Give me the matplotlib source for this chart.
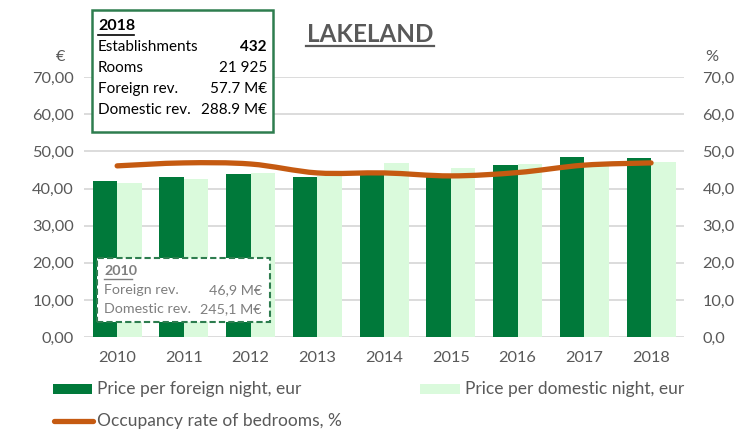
import numpy as np
import matplotlib
matplotlib.use("Agg")
import matplotlib.pyplot as plt
from matplotlib.path import Path
from matplotlib.patches import PathPatch, Rectangle
from matplotlib.lines import Line2D

plt.rcParams['font.family'] = ['Lato', 'DejaVu Sans']

years = ["2010", "2011", "2012", "2013", "2014", "2015", "2016", "2017", "2018"]
foreign_price = [42.1, 43.2, 43.8, 43.2, 44.4, 43.9, 46.4, 48.6, 48.3]
domestic_price = [41.4, 42.6, 44.2, 43.5, 46.9, 45.5, 46.6, 46.3, 47.2]
occupancy = [46.1, 46.9, 46.6, 44.2, 44.2, 43.4, 44.3, 46.3, 46.9]

dark_green = "#00793A"
light_green = "#DAFADC"
orange = "#C55A11"
gray = "#595959"


def smooth_path(xs, ys, tension=1 / 6):
    # Excel style smoothed line as cubic bezier segments
    pts = np.column_stack([xs, ys])
    verts = [pts[0]]
    codes = [Path.MOVETO]
    n = len(pts)
    for i in range(n - 1):
        p0 = pts[i - 1] if i > 0 else pts[i]
        p1 = pts[i]
        p2 = pts[i + 1]
        p3 = pts[i + 2] if i + 2 < n else pts[i + 1]
        c1 = p1 + (p2 - p0) * tension
        c2 = p2 - (p3 - p1) * tension
        verts += [c1, c2, p2]
        codes += [Path.CURVE4] * 3
    return Path(verts, codes)


def fx(px):
    return px / 748


def fy(py):
    return 1 - py / 443


fig = plt.figure(figsize=(7.48, 4.43), dpi=100)
ax = fig.add_axes([0.112, 0.239, 0.803, 0.587])
x = np.arange(len(years))
w = 0.367
ax.bar(x - w / 2, foreign_price, w, color=dark_green, zorder=2)
ax.bar(x + w / 2, domestic_price, w, color=light_green, zorder=2)
ax.set_xlim(-0.5, len(years) - 0.5)
ax.set_ylim(0, 70)
ax.set_yticks(range(0, 71, 10))
ax.set_yticklabels([f"{v},00" for v in range(0, 71, 10)])
ax.set_xticks(x)
ax.set_xticklabels(years)
ax.grid(axis="y", color="#D9D9D9", linewidth=1.3, zorder=0)
ax.set_axisbelow(True)
for s in ax.spines.values():
    s.set_visible(False)
ax.tick_params(length=0, labelsize=11.8, labelcolor=gray, pad=7)
ax.tick_params(axis="x", pad=10)

ax2 = ax.twinx()
ax2.set_ylim(0, 70)
ax2.set_yticks(range(0, 71, 10))
ax2.set_yticklabels([f"{v},0" for v in range(0, 71, 10)])
ax2.tick_params(length=0, labelsize=11.8, labelcolor=gray, pad=13)
for s in ax2.spines.values():
    s.set_visible(False)
ax2.add_patch(PathPatch(smooth_path(x, occupancy), facecolor="none", edgecolor=orange,
                        linewidth=3.8, capstyle="round", joinstyle="round", zorder=3))

fig.text(fx(56), fy(57), "€", fontsize=11.8, color=gray, ha="left", va="center")
fig.text(fx(712), fy(57), "%", fontsize=11.8, color=gray, ha="center", va="center")

# title
fig.text(fx(370), fy(34), "LAKELAND", fontsize=17.4, fontweight="bold", color=gray,
         ha="center", va="center")
fig.add_artist(Line2D([fx(306), fx(434)], [fy(46), fy(46)], color=gray, linewidth=1.6))

# 2018 info box
fig.add_artist(Rectangle((fx(92), fy(132)), fx(181), 122 / 443, transform=fig.transFigure,
                         facecolor="white", edgecolor="#2E7D4F", linewidth=1.8, zorder=5))
rows = [("Establishments", "432"), ("Rooms", "21 925"), ("Foreign rev.", "57.7 M€"),
        ("Domestic rev.", "288.9 M€")]
fig.text(fx(98), fy(26), "2018", fontsize=11.5, fontweight="bold", va="center", zorder=6)
fig.add_artist(Line2D([fx(98), fx(134)], [fy(35), fy(35)], color="black",
                      linewidth=1.2, zorder=6))
for i, (lab, val) in enumerate(rows):
    yy = fy(47 + i * 21)
    fig.text(fx(98), yy, lab, fontsize=11, va="center", zorder=6)
    fig.text(fx(267), yy, val, fontsize=11, va="center", ha="right", zorder=6,
             fontweight="bold" if lab == "Establishments" else "normal")

# 2010 info box
fig.add_artist(Rectangle((fx(97), fy(322)), fx(173), 64 / 443, transform=fig.transFigure,
                         facecolor="white", edgecolor="#2E7D4F", linewidth=1.5,
                         linestyle=(0, (3, 1.5)), zorder=5))
rows2 = [("Foreign rev.", "46,9 M€"), ("Domestic rev.", "245,1 M€")]
fig.text(fx(104), fy(271), "2010", fontsize=10.3, fontweight="bold", color="#7F7F7F",
         va="center", zorder=6)
fig.add_artist(Line2D([fx(104), fx(132)], [fy(279), fy(279)], color="#7F7F7F",
                      linewidth=1, zorder=6))
for i, (lab, val) in enumerate(rows2):
    yy = fy(290 + i * 19)
    fig.text(fx(104), yy, lab, fontsize=10.3, color="#7F7F7F", va="center", zorder=6)
    fig.text(fx(262), yy, val, fontsize=10.3, color="#7F7F7F", va="center", ha="right", zorder=6)

# legend
fig.add_artist(Rectangle((fx(53), fy(394)), fx(39), 10 / 443, transform=fig.transFigure,
                         facecolor=dark_green, edgecolor="none"))
fig.text(fx(97), fy(389), "Price per foreign night, eur", fontsize=12.5, color=gray, va="center")
fig.add_artist(Rectangle((fx(420), fy(394)), fx(40), 10 / 443, transform=fig.transFigure,
                         facecolor=light_green, edgecolor="none"))
fig.text(fx(465), fy(389), "Price per domestic night, eur", fontsize=12.5, color=gray, va="center")
fig.add_artist(Line2D([fx(54), fx(93)], [fy(421), fy(421)], color=orange,
                      linewidth=3.8, solid_capstyle="round"))
fig.text(fx(97), fy(421), "Occupancy rate of bedrooms, %", fontsize=12.5, color=gray, va="center")

fig.savefig("out.png", dpi=100)
